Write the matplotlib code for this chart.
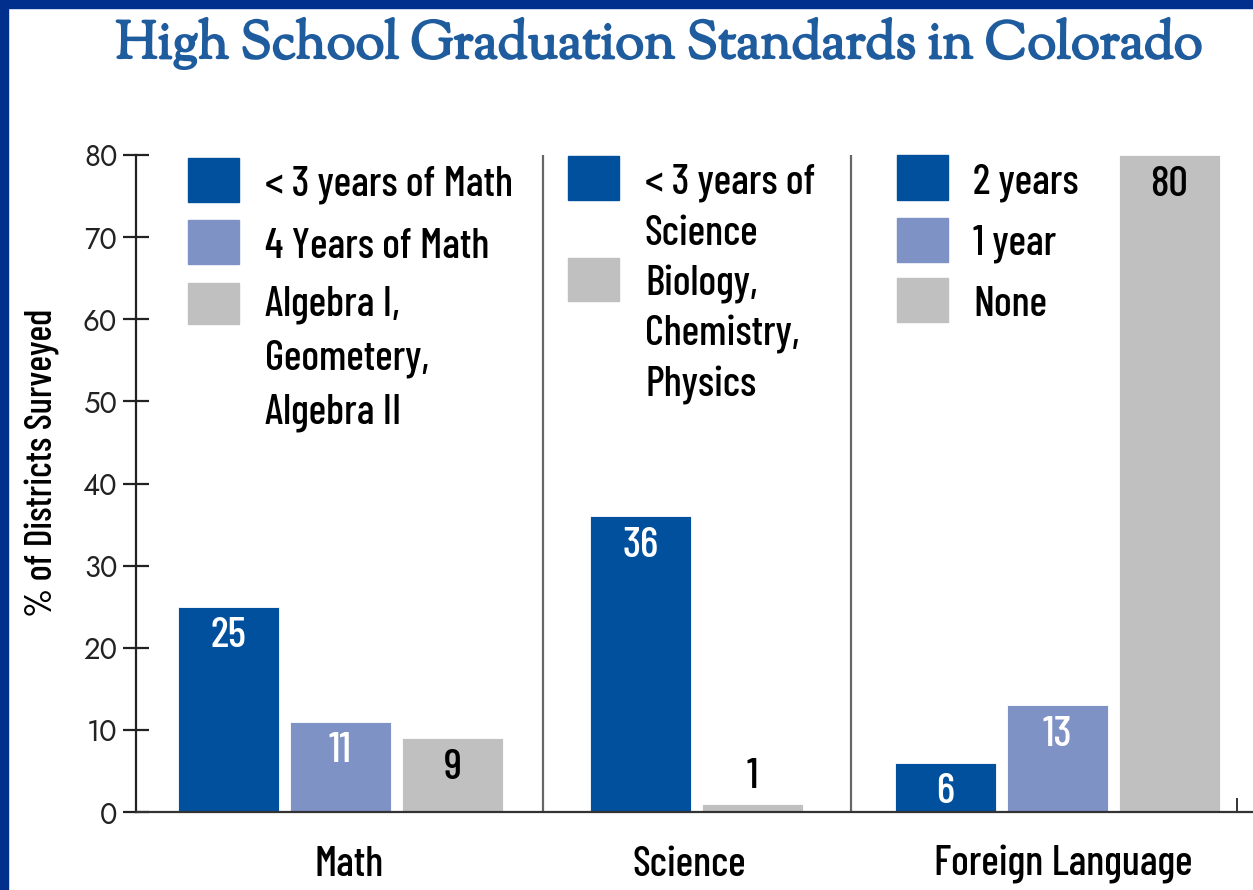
import matplotlib
matplotlib.use('Agg')
import matplotlib.pyplot as plt
from matplotlib import font_manager, patheffects
from matplotlib.patches import Rectangle

# data
categories = ['Math', 'Science', 'Foreign Language']
math_labels = ['< 3 years of Math', '4 Years of Math', 'Algebra I,\nGeometery,\nAlgebra II']
math_values = [25, 11, 9]
science_labels = ['< 3 years of\nScience', 'Biology,\nChemistry,\nPhysics']
science_values = [36, 1]
language_labels = ['2 years', '1 year', 'None']
language_values = [6, 13, 80]
y_ticks = [0, 10, 20, 30, 40, 50, 60, 70, 80]

BLUE = '#00509E'
LIGHT = '#7F92C6'
GREY = '#C0C0C0'
NAVY = '#002F8E'
TITLE = '#1F5C9E'

W, H = 1253, 890
installed = {f.name for f in font_manager.fontManager.ttflist}


def pick(*names):
    found = [n for n in names if n in installed]
    return found + ['DejaVu Sans']


NARROW = pick('Barlow Condensed', 'Roboto Condensed', 'Open Sans Condensed')
GEOMETRIC = pick('Jost', 'Futura', 'Lato')
SERIF = pick('Sorts Mill Goudy', 'Linden Hill', 'EB Garamond', 'Crimson Pro', 'Crimson Text', 'Liberation Serif')


def fx(x):
    return x / W


def fy(y):
    return 1 - y / H


fig = plt.figure(figsize=(W / 100, H / 100), dpi=100)
fig.patch.set_facecolor('white')

# navy frame on the top and left
fig.patches.append(Rectangle((0, fy(8)), 1, 8 / H, transform=fig.transFigure, color=NAVY, zorder=0))
fig.patches.append(Rectangle((0, 0), fx(8), 1, transform=fig.transFigure, color=NAVY, zorder=0))

fig.text(fx(658), fy(58), 'High School Graduation Standards in Colorado',
         family=SERIF, weight='bold', fontsize=38, color=TITLE, ha='center', va='baseline',
         path_effects=[patheffects.withStroke(linewidth=1.6, foreground=TITLE)])

ax_left, ax_bottom, ax_top = 136, 812, 155
ax = fig.add_axes([fx(ax_left), fy(ax_bottom), 1 - fx(ax_left), (ax_bottom - ax_top) / H])
ax.set_xlim(0, W - ax_left)
ax.set_ylim(0, 80)
for side in ['top', 'right']:
    ax.spines[side].set_visible(False)
ax.spines['left'].set_linewidth(1.6)
ax.spines['bottom'].set_linewidth(1.6)
ax.spines['left'].set_color('#222222')
ax.spines['bottom'].set_color('#333333')
ax.set_yticks(y_ticks)
ax.tick_params(axis='y', direction='inout', length=19, width=1.6, pad=4,
               labelsize=21, labelcolor='#222222', color='#222222')
for lbl in ax.get_yticklabels():
    lbl.set_family(GEOMETRIC)
ax.set_xticks([1101])
ax.tick_params(axis='x', direction='in', length=10, width=1.4, labelbottom=False, color='#333333')

fig.text(fx(43), fy(463), '% of Districts Surveyed', family=NARROW, fontsize=27, weight='medium',
         rotation=90, ha='center', va='center')

group_start = [42, 454, 759]
step, bar_w = 112, 101
groups = [
    (math_values, math_labels, [BLUE, LIGHT, GREY], [0, 1, 2]),
    (science_values, science_labels, [BLUE, GREY], [0, 1]),
    (language_values, language_labels, [BLUE, LIGHT, GREY], [0, 1, 2]),
]

for start, (values, labels, colors, slots) in zip(group_start, groups):
    xs = [start + s * step for s in slots]
    ax.bar(xs, values, width=bar_w, align='edge', color=colors, edgecolor='white', linewidth=0.6, zorder=2)
    for x, v, c in zip(xs, values, colors):
        text_color = 'black' if c == GREY else 'white'
        if v < 3:
            y, text_color = v + 3.3, 'black'
        else:
            y = v - 3.6
        ax.text(x + bar_w / 2, y, str(v), ha='center', va='center', family=NARROW,
                fontsize=31, weight='medium', color=text_color, zorder=3)

# separators between subjects
for xsep in [407, 715]:
    ax.plot([xsep, xsep], [0, 80], color='#666666', lw=1.6, zorder=1)

# in-panel legends (pixel layout)
legend_layout = [
    (188, 265, [(158, 202), (220, 264), (283, 324)], [196, 258, 316], 54),
    (568, 645, [(156, 200), (258, 301)], [194, 295], 51),
    (897, 973, [(155, 200), (218, 262), (278, 322)], [194, 255, 316], 54),
]
for (sq_x, tx, squares, baselines, lh), (values, labels, colors, slots) in zip(legend_layout, groups):
    for (y0, y1), base, label, c in zip(squares, baselines, labels, colors):
        fig.patches.append(Rectangle((fx(sq_x), fy(y1)), 51 / W, (y1 - y0) / H,
                                     transform=fig.transFigure, color=c, zorder=3))
        for i, line in enumerate(label.split('\n')):
            fig.text(fx(tx), fy(base + i * lh), line, family=NARROW, fontsize=30, weight='medium',
                     color='black', ha='left', va='baseline')

for name, cx in zip(categories, [349, 689, 1063]):
    fig.text(fx(cx), fy(876), name, family=NARROW, fontsize=30, weight='medium', ha='center', va='baseline')

fig.savefig('out.png', dpi=100, facecolor='white')
